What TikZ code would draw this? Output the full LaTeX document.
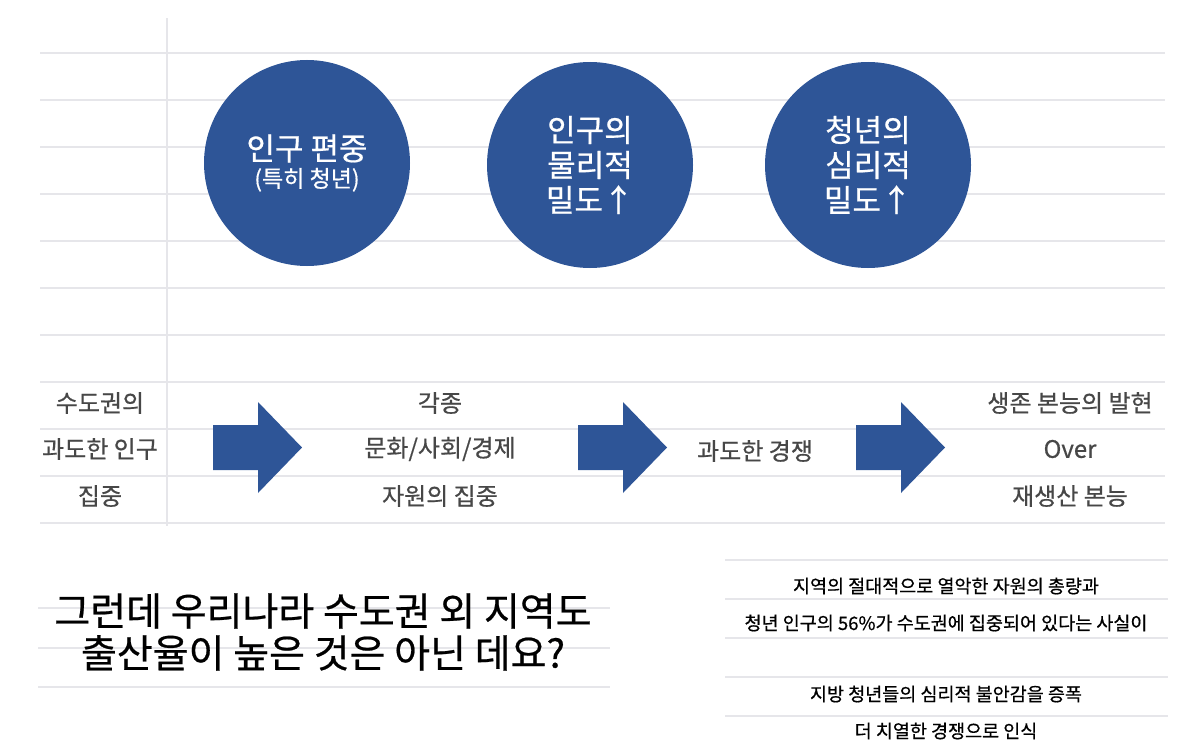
\documentclass[tikz,border=0pt]{standalone}
\usepackage{fontspec}
\setmainfont{Noto Sans CJK KR}[FakeBold=0.6]
\begin{document}
\begin{tikzpicture}[x=1pt,y=-1pt,
  grid/.style={draw=blue!10!gray!18,line width=1.3pt},
  bub/.style={circle,fill=myblue,minimum size=206pt,text=white,align=center,font=\fontsize{31}{35}\selectfont},
  lbl/.style={text=black!72,font=\fontsize{24}{26}\selectfont},
  note/.style={text=black,font=\fontsize{18.5}{20}\selectfont},
  arr/.style={fill=myblue}]
\definecolor{myblue}{HTML}{2E5597}
\useasboundingbox (0,0) rectangle (1191,752);
\foreach \y in {53,100,147,194,241,288,335,382,429,476,523}{\draw[grid] (40,\y) -- (1165,\y);}
\draw[grid] (167,18) -- (167,526);
\foreach \y in {560,599,638,677,716}{\draw[grid] (725,\y) -- (1168,\y);}
\foreach \y in {608,648,687}{\draw[grid] (38,\y) -- (610,\y);}
\node[bub] (c1) at (307,163) {인구 편중\\[-8pt]{\fontsize{23}{26}\selectfont (특히 청년)}};
\node[bub] (c2) at (590,165) {인구의\\물리적\\밀도↑};
\node[bub] (c3) at (868,165) {청년의\\심리적\\밀도↑};
\foreach \x/\n in {213/a1,578/a2,856/a3}{
  \fill[arr] (\x,425) -- (\x+45,425) -- (\x+45,402) -- (\x+89,447.5) -- (\x+45,493) -- (\x+45,470) -- (\x,470) -- cycle;
  \coordinate (\n) at (\x+44,447.5);}
\node[lbl] (t1) at (100,403) {수도권의};
\node[lbl] (t2) at (100,449) {과도한 인구};
\node[lbl] (t3) at (100,496) {집중};
\node[lbl] (m1) at (440,403) {각종};
\node[lbl] (m2) at (440,449) {문화/사회/경제};
\node[lbl] (m3) at (440,496) {자원의 집중};
\node[lbl] (k1) at (755,451) {과도한 경쟁};
\node[lbl] (r1) at (1070,403) {생존 본능의 발현};
\node[lbl] (r2) at (1070,449) {Over};
\node[lbl] (r3) at (1070,496) {재생산 본능};
\node[align=center,font=\fontsize{39}{42}\selectfont] (q) at (323,632) {그런데 우리나라 수도권 외 지역도\\출산율이 높은 것은 아닌 데요?};
\node[note] (n1) at (946,586) {지역의 절대적으로 열악한 자원의 총량과};
\node[note] (n2) at (946,623) {청년 인구의 56\%가 수도권에 집중되어 있다는 사실이};
\node[note] (n3) at (946,694) {지방 청년들의 심리적 불안감을 증폭};
\node[note] (n4) at (946,731) {더 치열한 경쟁으로 인식};
\end{tikzpicture}
\end{document}
